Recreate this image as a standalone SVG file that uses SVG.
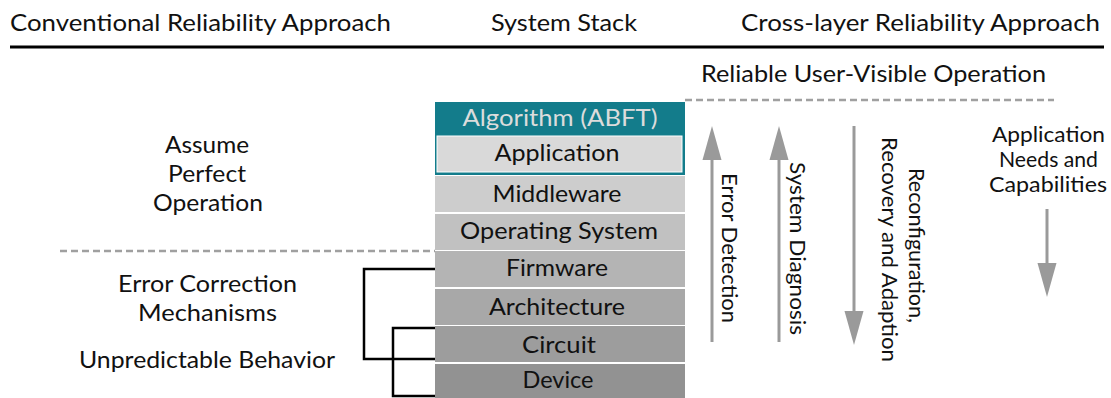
<svg xmlns="http://www.w3.org/2000/svg" width="1111" height="398" viewBox="0 0 1111 398">
  <style>
    text { font-family: Lato, "Open Sans", "DejaVu Sans", sans-serif; fill: #111; }
    .hdr { font-size: 24px; }
    .lbl { font-size: 23px; text-anchor: middle; }
    .sm { font-size: 22px; text-anchor: middle; }
    .dash { stroke: #a0a0a0; stroke-width: 2.5; stroke-dasharray: 7 4; fill: none; }
    .brk { stroke: #000; stroke-width: 2.5; fill: none; }
    .shaft { stroke: #9a9a9a; stroke-width: 3; fill: none; }
    .head { fill: #9a9a9a; }
  </style>

  <!-- column headings -->
  <g id="headings">
    <text class="hdr" x="10" y="31" textLength="381" lengthAdjust="spacingAndGlyphs">Conventional Reliability Approach</text>
    <text class="hdr" x="491" y="31" textLength="146" lengthAdjust="spacingAndGlyphs">System Stack</text>
    <text class="hdr" x="741" y="31" textLength="359" lengthAdjust="spacingAndGlyphs">Cross-layer Reliability Approach</text>
    <line x1="10" y1="47" x2="1104" y2="47" stroke="#000" stroke-width="3"/>
  </g>

  <!-- system stack layers -->
  <g id="algorithm">
    <rect x="435" y="102" width="250" height="73" fill="#137c8b"/>
    <text class="lbl" x="560" y="126" style="fill:#dcdcdc" textLength="195" lengthAdjust="spacingAndGlyphs">Algorithm (ABFT)</text>
  </g>
  <g id="application">
    <rect x="437" y="136" width="245" height="36" fill="#d9d9d9" stroke="#ffffff" stroke-width="1"/>
    <text class="lbl" x="557" y="161" textLength="125" lengthAdjust="spacingAndGlyphs">Application</text>
  </g>
  <g id="middleware">
    <rect x="435" y="176" width="250" height="36" fill="#cdcdcd"/>
    <text class="lbl" x="557" y="202" textLength="129" lengthAdjust="spacingAndGlyphs">Middleware</text>
  </g>
  <g id="operating-system">
    <rect x="435" y="214" width="250" height="36" fill="#c1c1c1"/>
    <text class="lbl" x="559" y="239" textLength="198" lengthAdjust="spacingAndGlyphs">Operating System</text>
  </g>
  <g id="firmware">
    <rect x="435" y="251" width="250" height="36" fill="#b4b4b4"/>
    <text class="lbl" x="557" y="276" textLength="102" lengthAdjust="spacingAndGlyphs">Firmware</text>
  </g>
  <g id="architecture">
    <rect x="435" y="289" width="250" height="36" fill="#a8a8a8"/>
    <text class="lbl" x="557" y="315" textLength="136" lengthAdjust="spacingAndGlyphs">Architecture</text>
  </g>
  <g id="circuit">
    <rect x="435" y="326" width="250" height="36" fill="#9d9d9d"/>
    <text class="lbl" x="559" y="353" textLength="74" lengthAdjust="spacingAndGlyphs">Circuit</text>
  </g>
  <g id="device">
    <rect x="435" y="364" width="250" height="36" fill="#929292"/>
    <text class="lbl" x="558" y="388" textLength="71" lengthAdjust="spacingAndGlyphs">Device</text>
  </g>

  <!-- conventional approach labels -->
  <g id="assume-perfect">
    <text class="lbl" x="207" y="153" textLength="84" lengthAdjust="spacingAndGlyphs">Assume</text>
    <text class="lbl" x="207" y="182" textLength="78" lengthAdjust="spacingAndGlyphs">Perfect</text>
    <text class="lbl" x="208" y="211" textLength="110" lengthAdjust="spacingAndGlyphs">Operation</text>
  </g>
  <g id="error-correction">
    <text class="lbl" x="207.5" y="292" textLength="179" lengthAdjust="spacingAndGlyphs">Error Correction</text>
    <text class="lbl" x="207.5" y="321" textLength="139" lengthAdjust="spacingAndGlyphs">Mechanisms</text>
  </g>
  <g id="unpredictable">
    <text class="lbl" x="207" y="368" textLength="256" lengthAdjust="spacingAndGlyphs">Unpredictable Behavior</text>
  </g>

  <!-- cross-layer approach labels -->
  <g id="reliable-operation">
    <text class="lbl" x="873.5" y="82" textLength="345" lengthAdjust="spacingAndGlyphs">Reliable User-Visible Operation</text>
  </g>
  <g id="app-needs">
    <text class="sm" x="1048.5" y="142" textLength="113" lengthAdjust="spacingAndGlyphs">Application</text>
    <text class="sm" x="1048.5" y="167" textLength="99" lengthAdjust="spacingAndGlyphs">Needs and</text>
    <text class="sm" x="1048" y="192" textLength="118" lengthAdjust="spacingAndGlyphs">Capabilities</text>
  </g>

  <!-- connectors: dashed dividers, brackets, arrows -->
  <g id="connectors">
    <line class="dash" x1="685" y1="100" x2="1054" y2="100"/>
    <line class="dash" x1="60" y1="251" x2="435" y2="251"/>

    <polyline class="brk" points="435,269 364,269 364,359 435,359"/>
    <polyline class="brk" points="435,328 393,328 393,396 435,396"/>

    <!-- error detection (up) -->
    <line class="shaft" x1="712" y1="342" x2="712" y2="155"/>
    <polygon class="head" points="712,126 702.5,160 721.5,160"/>
    <text class="sm" transform="translate(722,248) rotate(90)" textLength="150" lengthAdjust="spacingAndGlyphs">Error Detection</text>

    <!-- system diagnosis (up) -->
    <line class="shaft" x1="779" y1="342" x2="779" y2="155"/>
    <polygon class="head" points="779,126 769.5,160 788.5,160"/>
    <text class="sm" transform="translate(790,248.5) rotate(90)" textLength="173" lengthAdjust="spacingAndGlyphs">System Diagnosis</text>

    <!-- reconfiguration (down) -->
    <line class="shaft" x1="854" y1="126" x2="854" y2="315"/>
    <polygon class="head" points="854,345 844.5,311 863.5,311"/>
    <text class="sm" transform="translate(909,245.5) rotate(90)" textLength="155" lengthAdjust="spacingAndGlyphs">Reconfiguration,</text>
    <text class="sm" transform="translate(882,249.5) rotate(90)" textLength="225" lengthAdjust="spacingAndGlyphs">Recovery and Adaption</text>

    <!-- application needs (down) -->
    <line class="shaft" x1="1047" y1="209" x2="1047" y2="268"/>
    <polygon class="head" points="1047,297 1037.5,263 1056.5,263"/>
  </g>
</svg>
